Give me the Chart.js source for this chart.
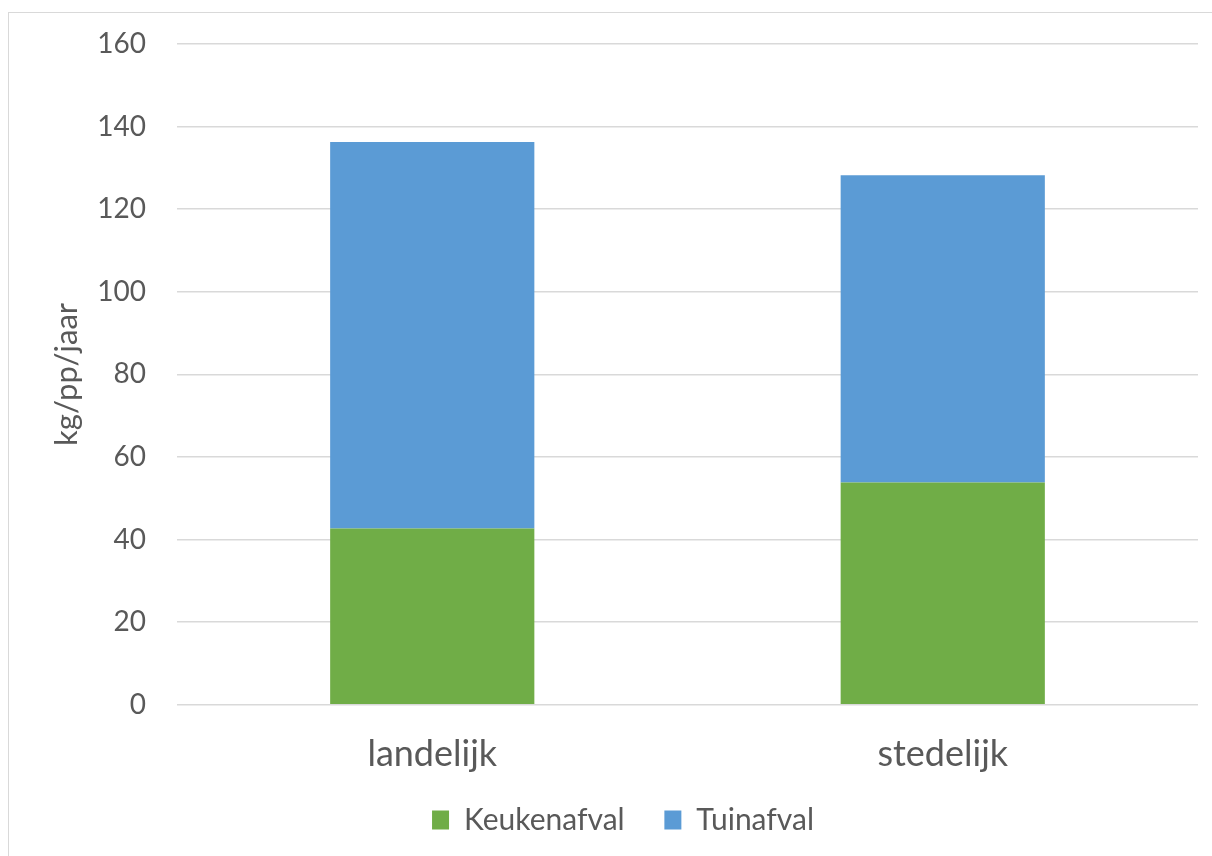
<!DOCTYPE html>
<html>
<head>
<meta charset="utf-8">
<script src="https://cdn.jsdelivr.net/npm/chart.js@4.4.1/dist/chart.umd.min.js"></script>
<style>
  html, body { margin: 0; padding: 0; background: #fff; overflow: hidden; }
  #frame { position: absolute; left: 8px; top: 12px; width: 1400px; height: 1000px; border: 1.5px solid #d9d9d9; }
  #wrap { position: absolute; left: 0; top: 0; width: 1212px; height: 856px; }
</style>
</head>
<body>
<div id="frame"></div>
<div id="wrap"><canvas id="barChart" width="1212" height="856"></canvas></div>
<script>
var categories = ["landelijk", "stedelijk"];
var keukenafval = [42.7, 53.8];
var tuinafval = [93.6, 74.4];
var yTicks = [0, 20, 40, 60, 80, 100, 120, 140, 160];

var textColor = '#595959';
var fontName = 'Lato';

var ctx = document.getElementById("barChart").getContext('2d');
var myBarChart = new Chart(ctx, {
  type: 'bar',
  data: {
    labels: categories,
    datasets: [{
        label: "Keukenafval",
        data: keukenafval,
        backgroundColor: '#70ad47',
        borderWidth: 0
      },
      {
        label: "Tuinafval",
        data: tuinafval,
        backgroundColor: '#5b9bd5',
        borderWidth: 0
      }
    ]
  },
  options: {
    responsive: false,
    animation: false,
    categoryPercentage: 1,
    barPercentage: 0.4,
    layout: {
      padding: { left: 48, right: 14, top: 44, bottom: 11 }
    },
    plugins: {
      tooltip: { enabled: false },
      legend: {
        position: 'bottom',
        labels: {
          color: textColor,
          font: { family: fontName, size: 30 },
          boxWidth: 17,
          boxHeight: 19,
          padding: 9,
          // wider gap between the legend entries without making the legend taller
          generateLabels: function (chart) {
            var items = Chart.defaults.plugins.legend.labels.generateLabels(chart);
            items.forEach(function (item, i) {
              if (i < items.length - 1) item.text += '    ';
            });
            return items;
          }
        }
      }
    },
    scales: {
      x: {
        stacked: true,
        grid: { display: false },
        border: { display: false },
        ticks: {
          color: textColor,
          font: { family: fontName, size: 36 },
          padding: 20
        }
      },
      y: {
        stacked: true,
        min: 0,
        max: 160,
        afterBuildTicks: function (scale) {
          scale.ticks = yTicks.map(function (v) { return { value: v }; });
        },
        afterFit: function (scale) { scale.width = 129; },
        grid: {
          color: '#d9d9d9',
          lineWidth: 1.5,
          drawTicks: false
        },
        border: { display: false },
        ticks: {
          color: textColor,
          // small line height keeps the top label from pushing the plot down
          font: { family: fontName, size: 28, lineHeight: 0.9 },
          padding: 31
        },
        title: {
          display: true,
          text: 'kg/pp/jaar',
          color: textColor,
          font: { family: fontName, size: 31 },
          padding: { top: 0, bottom: 0 }
        }
      }
    }
  }
});
</script>
</body>
</html>
